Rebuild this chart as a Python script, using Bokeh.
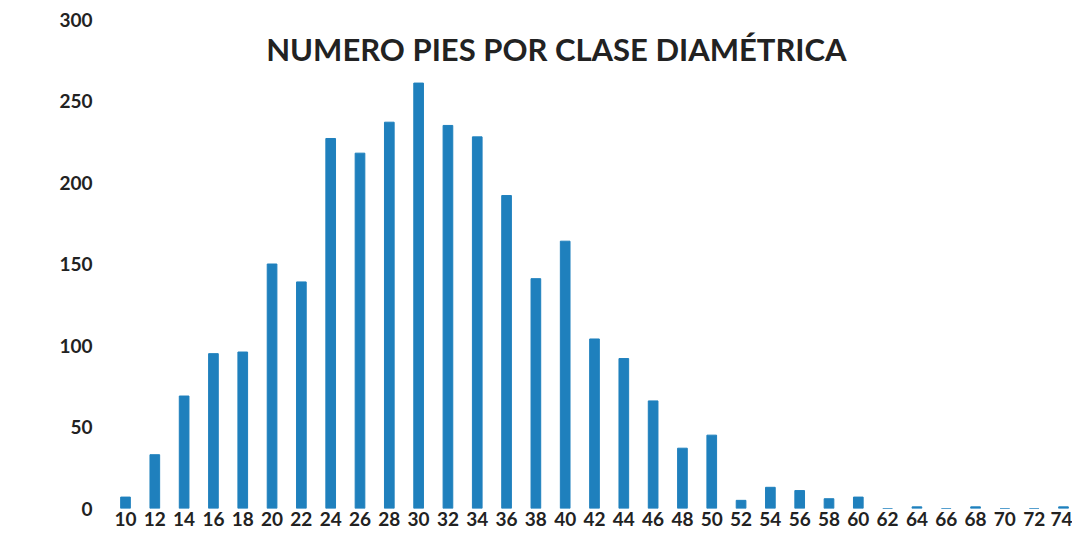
from bokeh.plotting import figure
from bokeh.models import ColumnDataSource, FactorRange, Range1d, Label, FixedTicker
from bokeh.embed import file_html
from bokeh.resources import INLINE

categories = [str(c) for c in range(10, 76, 2)]
counts = [7, 33, 69, 95, 96, 150, 139, 227, 218, 237, 261, 235, 228, 192, 141, 164,
          104, 92, 66, 37, 45, 5, 13, 11, 6, 7, 0, 1, 0, 1, 0, 0, 1]
title_text = "NUMERO PIES POR CLASE DIAMÉTRICA"
y_ticks = [0, 50, 100, 150, 200, 250, 300]

FONT = "Lato"

src = ColumnDataSource(dict(cat=categories, n=counts))

p = figure(x_range=FactorRange(*categories, range_padding=-0.193, range_padding_units="absolute"),
           y_range=Range1d(0, 300),
           width=1072, height=535, output_backend="svg", toolbar_location=None,
           min_border_left=116, min_border_right=0, min_border_top=19, min_border_bottom=27)

p.vbar(x="cat", top="n", width=0.33, source=src, color="#1f80bd")

p.xgrid.grid_line_color = None
p.ygrid.grid_line_color = None
p.outline_line_color = None

for ax in (p.xaxis[0], p.yaxis[0]):
    ax.axis_line_color = None
    ax.major_tick_line_color = None
    ax.minor_tick_line_color = None
    ax.major_tick_out = 0
    ax.major_tick_in = 0
    ax.major_label_text_font = FONT
    ax.major_label_text_font_style = "bold"
    ax.major_label_text_font_size = "19px"
    ax.major_label_text_color = "#222222"

p.yaxis.ticker = FixedTicker(ticks=y_ticks)
p.yaxis.major_label_standoff = 24
p.xaxis.major_label_standoff = 3

p.add_layout(Label(x=15.2, y=282, text=title_text, text_align="center",
                   text_baseline="middle", text_font=FONT, text_font_style="bold",
                   text_font_size="31px", text_color="#222222"))

open("out.html", "w").write(file_html(p, INLINE))
